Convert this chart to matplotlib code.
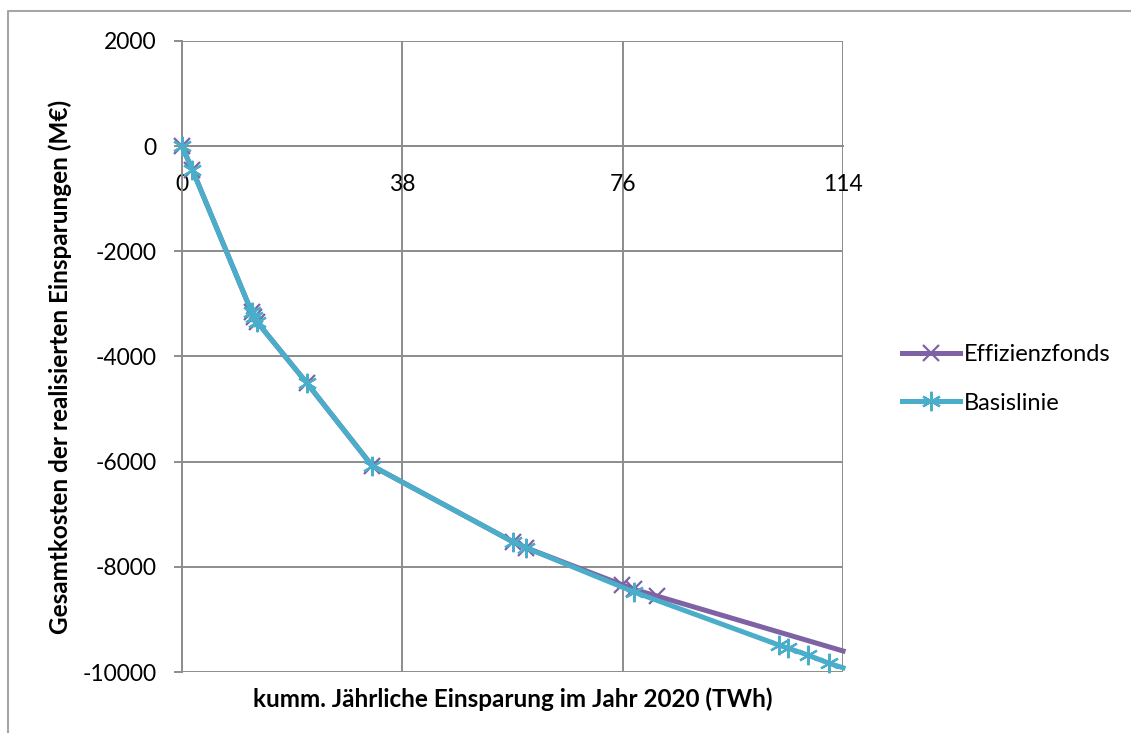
import matplotlib
matplotlib.use("Agg")
import matplotlib.pyplot as plt
from matplotlib.lines import Line2D

# ---------------------------------------------------------
# Daten
# ---------------------------------------------------------
eff_x = [0, 1.8, 12.0, 12.5, 13.0, 21.5, 32.8, 57.0, 59.4, 75.9, 78.0, 81.9, 114]
eff_y = [0, -450, -3150, -3250, -3350, -4500, -6080, -7520, -7640, -8340, -8430, -8555, -9600]

bas_x = [0, 1.8, 12.0, 12.5, 13.0, 21.5, 32.8, 57.0, 59.4, 78.0, 103.0, 104.5, 108.0, 111.5, 114]
bas_y = [0, -450, -3150, -3250, -3350, -4500, -6080, -7520, -7640, -8480, -9490, -9545, -9680, -9830, -9920]

x_ticks = [0, 38, 76, 114]
y_ticks = [2000, 0, -2000, -4000, -6000, -8000, -10000]

plt.rcParams["font.family"] = ["Lato", "DejaVu Sans"]
plt.rcParams["axes.unicode_minus"] = False

lila = "#7f62a3"
tuerkis = "#4aaecb"
grau = "#8c8c8c"

fig = plt.figure(figsize=(11.31, 7.33), dpi=100)
ax = fig.add_axes([0.1609, 0.0832, 0.5845, 0.8609])

# Rahmen um das Diagramm
fig.add_artist(Line2D([8 / 1131, 8 / 1131, 1.0], [0.0, 1 - 11 / 733, 1 - 11 / 733],
                      transform=fig.transFigure, color="#a6a6a6", lw=1.5))

ax.plot(eff_x, eff_y, color=lila, lw=3.6, marker="x", ms=12, mew=1.6,
        label="Effizienzfonds", clip_on=False, markevery=slice(0, -1), zorder=3)
ax.plot(bas_x, bas_y, color=tuerkis, lw=3.6, marker=(6, 2, 0), ms=14, mew=1.6,
        label="Basislinie", clip_on=False, markevery=slice(0, -1), zorder=4)

ax.set_xlim(0, 114)
ax.set_ylim(-10000, 2000)
ax.set_xticks(x_ticks)
ax.set_yticks(y_ticks)

ax.grid(True, color=grau, lw=1.4)
ax.set_axisbelow(True)

ax.spines["bottom"].set_position(("data", 0))
for s in ["top", "right"]:
    ax.spines[s].set_visible(False)
for s in ["left", "bottom"]:
    ax.spines[s].set_color(grau)
    ax.spines[s].set_linewidth(1.4)

ax.tick_params(axis="y", direction="out", length=6, width=1.4, color=grau,
               pad=12, labelsize=16.5)
ax.tick_params(axis="x", length=0, pad=20, labelsize=16.5)

ax.text(0.5, -0.024, "kumm. Jährliche Einsparung im Jahr 2020 (TWh)",
        transform=ax.transAxes, ha="center", va="top", fontsize=17.5, fontweight="bold")
fig.text(60 / 1131, 0.5, "Gesamtkosten der realisierten Einsparungen (M€)",
         rotation=90, ha="center", va="center", fontsize=17.5, fontweight="bold")

fig.legend(loc="center left", bbox_to_anchor=(890 / 1131, 1 - 379 / 733),
           frameon=False, fontsize=17, handlelength=2.45, handletextpad=0.17,
           labelspacing=1.15, borderpad=0)

fig.savefig("out.png", dpi=100)
